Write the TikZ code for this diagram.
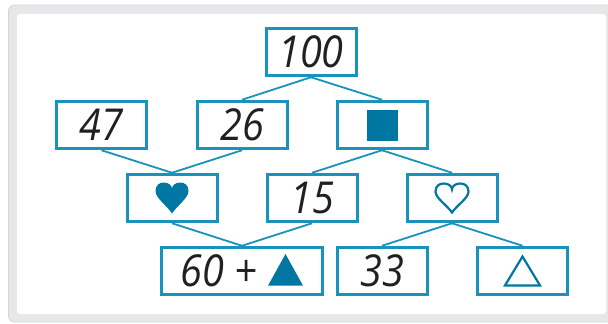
\documentclass[tikz,border=0pt]{standalone}
\usepackage{fontspec}
\newfontfamily\numfont{Open Sans}[FakeStretch=0.9]
\definecolor{boxc}{HTML}{1A93BC}
\definecolor{symc}{HTML}{0077A2}
\definecolor{txtc}{HTML}{231F20}
\definecolor{framec}{HTML}{E6E7E8}
\definecolor{frameline}{HTML}{D3D5D7}
\begin{document}
\begin{tikzpicture}[x=1pt,y=-1pt,
  box/.style={draw=boxc, line width=3pt, fill=white, minimum width=90pt, minimum height=47.5pt, inner sep=0pt,
    font=\numfont\itshape\fontsize{44}{44}\selectfont, text=txtc},
  link/.style={draw=boxc, line width=1.8pt},
  symfill/.style={fill=symc},
  symline/.style={draw=symc, line width=2.2pt}]
\useasboundingbox (0,0) rectangle (608,324);
\fill[framec, draw=frameline, line width=0.8pt, rounded corners=6pt] (8.5,5) rectangle (640,322);
\fill[white, rounded corners=3pt] (17,14) rectangle (606,314);

\node[box] (n100) at (311,52) {100};
\node[box] (n47) at (101.5,125) {47};
\node[box] (n26) at (242,125) {26};
\node[box] (nsq) at (382,125) {};
\node[box] (nheart) at (172,198) {};
\node[box] (n15) at (312,198) {15};
\node[box] (nhearto) at (452,198) {};
\node[box, minimum width=161pt] (n60) at (242,271) {60 +\hspace*{46pt}\null};
\node[box] (n33) at (382,271) {33};
\node[box] (ntri) at (522.5,271) {};

\draw[link] (n100.south) -- (n26.north);
\draw[link] (n100.south) -- (nsq.north);
\draw[link] (n47.south) -- (nheart.north);
\draw[link] (n26.south) -- (nheart.north);
\draw[link] (nsq.south) -- (n15.north);
\draw[link] (nsq.south) -- (nhearto.north);
\draw[link] (nheart.south) -- (n60.north);
\draw[link] (n15.south) -- (n60.north);
\draw[link] (nhearto.south) -- (n33.north);
\draw[link] (nhearto.south) -- (ntri.north);

% filled square
\fill[symfill, shift={(nsq.center)}] (-15.5,-15.5) rectangle (15.5,15.5);
% filled heart
\fill[symfill, shift={(nheart.center)}, xscale=33, yscale=-31]
  (0,-0.5) .. controls (-0.15,-0.25) and (-0.5,0.0) .. (-0.5,0.22)
  .. controls (-0.5,0.42) and (-0.38,0.5) .. (-0.25,0.5)
  .. controls (-0.1,0.5) and (0,0.4) .. (0,0.3)
  .. controls (0,0.4) and (0.1,0.5) .. (0.25,0.5)
  .. controls (0.38,0.5) and (0.5,0.42) .. (0.5,0.22)
  .. controls (0.5,0.0) and (0.15,-0.25) .. (0,-0.5) -- cycle;
% outline heart
\draw[symline, shift={(nhearto.center)}, xscale=33, yscale=-29]
  (0,-0.5) .. controls (-0.15,-0.25) and (-0.5,0.0) .. (-0.5,0.22)
  .. controls (-0.5,0.42) and (-0.38,0.5) .. (-0.25,0.5)
  .. controls (-0.1,0.5) and (0,0.4) .. (0,0.3)
  .. controls (0,0.4) and (0.1,0.5) .. (0.25,0.5)
  .. controls (0.38,0.5) and (0.5,0.42) .. (0.5,0.22)
  .. controls (0.5,0.0) and (0.15,-0.25) .. (0,-0.5) -- cycle;
% filled triangle
\fill[symfill, shift={(n60.center)}] (26,14.7) -- (61,14.7) -- (43.5,-17) -- cycle;
% outline triangle
\draw[symline, shift={(ntri.center)}] (-17.5,14.5) -- (17.5,14.5) -- (0,-14.5) -- cycle;
\end{tikzpicture}
\end{document}
